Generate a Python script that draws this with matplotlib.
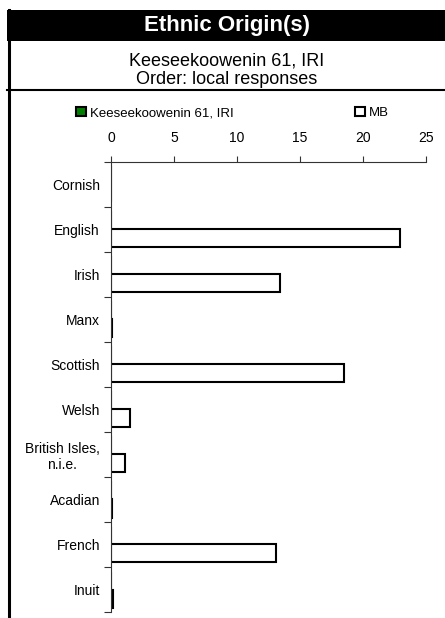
import numpy as np
import matplotlib.pyplot as plt
from matplotlib.patches import Rectangle
from matplotlib.lines import Line2D

plt.rcParams['font.family'] = ['Liberation Sans', 'DejaVu Sans']

# chart data
categories = ['Cornish', 'English', 'Irish', 'Manx', 'Scottish', 'Welsh',
              'British Isles,\nn.i.e.', 'Acadian', 'French', 'Inuit']
local_values = [0, 0, 0, 0, 0, 0, 0, 0, 0, 0]
mb_values = [0, 22.9, 13.4, 0.1, 18.5, 1.5, 1.15, 0.1, 13.1, 0.15]
x_ticks = [0, 5, 10, 15, 20, 25]

title = 'Ethnic Origin(s)'
subtitle1 = 'Keeseekoowenin 61, IRI'
subtitle2 = 'Order: local responses'
series_names = ['Keeseekoowenin 61, IRI', 'MB']

W, H = 445, 618
fig = plt.figure(figsize=(W / 100, H / 100), dpi=100)
fig.patch.set_facecolor('white')

def fx(px):
    return px / W

def fy(py):
    return 1 - py / H

# header band and frame lines
fig.patches.append(Rectangle((fx(7), fy(41)), fx(445) - fx(7), fy(10) - fy(41),
                             transform=fig.transFigure, facecolor='black',
                             edgecolor='none', zorder=1))
fig.lines.append(Line2D([fx(8.5), fx(8.5)], [fy(10), fy(618)], transform=fig.transFigure,
                        color='black', lw=2.2, zorder=2))
fig.lines.append(Line2D([fx(7), fx(445)], [fy(89.5), fy(89.5)], transform=fig.transFigure,
                        color='black', lw=1.5, zorder=2))

fig.text(fx(227), fy(25), title, color='white', fontsize=16, fontweight='bold',
         ha='center', va='center', zorder=3)
fig.text(fx(227), fy(61), subtitle1, fontsize=13, ha='center', va='center')
fig.text(fx(227), fy(79), subtitle2, fontsize=13, ha='center', va='center')

# plot area
ax = fig.add_axes([fx(111), fy(612), fx(426) - fx(111), fy(162) - fy(612)])
y = np.arange(len(categories))
b1 = ax.barh(y - 0.2, local_values, height=0.4, color='#008000',
             edgecolor='black', linewidth=1.5)
b2 = ax.barh(y + 0.2, mb_values, height=0.4, color='white',
             edgecolor='black', linewidth=1.5)

ax.set_xlim(0, 25)
ax.set_ylim(len(categories) - 0.5, -0.5)
ax.xaxis.tick_top()
ax.set_xticks(x_ticks)
ax.set_xticklabels([str(t) for t in x_ticks], fontsize=10)
ax.tick_params(axis='x', direction='out', length=4, width=0.8, pad=8, color='#333333')

ax.set_yticks(np.arange(-0.5, len(categories), 1.0))
ax.set_yticklabels([])
ax.set_yticks(y, minor=True)
ax.set_yticklabels(categories, minor=True, fontsize=10, ha='right', multialignment='center')
ax.tick_params(axis='y', which='major', direction='out', length=5, width=0.8, color='#333333')
ax.tick_params(axis='y', which='minor', length=0, pad=8)

for side in ['right', 'bottom']:
    ax.spines[side].set_visible(False)
for side in ['left', 'top']:
    ax.spines[side].set_color('#333333')
    ax.spines[side].set_linewidth(0.8)

fig.legend([b1, b2], series_names, loc='center left', bbox_to_anchor=(fx(76), fy(113)),
           ncol=2, frameon=False, fontsize=9.5, handlelength=0.75, handleheight=0.75,
           handletextpad=0.3, columnspacing=9.2, borderpad=0, borderaxespad=0)

fig.savefig('out.png', dpi=100)
